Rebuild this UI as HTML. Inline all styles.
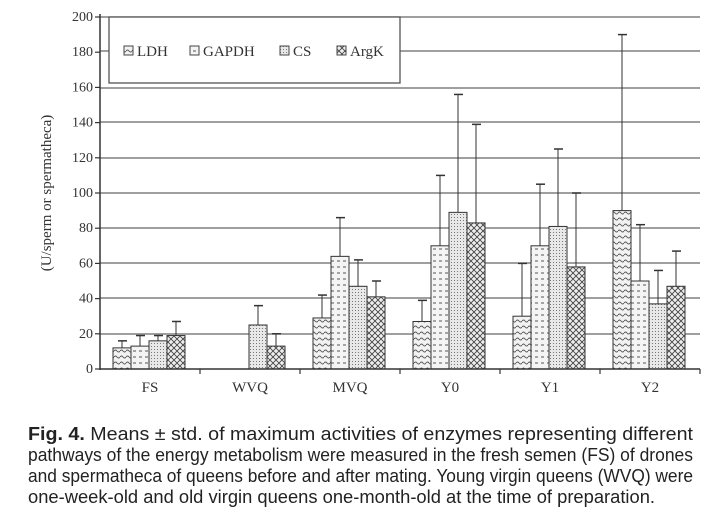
<!DOCTYPE html>
<html><head><style>body{margin:0;background:#fff}svg{display:block}</style></head><body>
<svg width="720" height="520" xmlns="http://www.w3.org/2000/svg" font-family="Liberation Serif, serif">
<defs>
<pattern id="p0" width="6" height="6" patternUnits="userSpaceOnUse"><rect width="6" height="6" fill="#f2f2f2"/><path d="M0 3 Q1.5 1 3 3 T6 3" stroke="#555" fill="none" stroke-width="0.9"/></pattern>
<pattern id="p1" width="6" height="6" patternUnits="userSpaceOnUse"><rect width="6" height="6" fill="#f4f4f4"/><path d="M1 3 H4" stroke="#555" stroke-width="1"/></pattern>
<pattern id="p2" width="3" height="3" patternUnits="userSpaceOnUse"><rect width="3" height="3" fill="#e8e8e8"/><rect x="1" y="1" width="1" height="1" fill="#777"/></pattern>
<pattern id="p3" width="6" height="6" patternUnits="userSpaceOnUse"><rect width="6" height="6" fill="#eee"/><path d="M0 0 L6 6 M6 0 L0 6" stroke="#444" stroke-width="0.9"/></pattern>
</defs>
<g stroke="#666" stroke-width="1.2">
<line x1="100" y1="17" x2="700" y2="17"/><line x1="100" y1="51" x2="700" y2="51"/><line x1="100" y1="88" x2="700" y2="88"/><line x1="100" y1="122" x2="700" y2="122"/><line x1="100" y1="158" x2="700" y2="158"/><line x1="100" y1="193" x2="700" y2="193"/><line x1="100" y1="228" x2="700" y2="228"/><line x1="100" y1="263" x2="700" y2="263"/><line x1="100" y1="298" x2="700" y2="298"/><line x1="100" y1="334" x2="700" y2="334"/>
</g>
<rect x="109" y="17" width="291" height="66" fill="#fff" stroke="#555" stroke-width="1.3"/>
<g font-size="15" fill="#333">
<rect x="124" y="46" width="9" height="9" fill="url(#p0)" stroke="#444"/><text x="137" y="56">LDH</text>
<rect x="190" y="46" width="9" height="9" fill="url(#p1)" stroke="#444"/><text x="203" y="56">GAPDH</text>
<rect x="280" y="46" width="9" height="9" fill="url(#p2)" stroke="#444"/><text x="293" y="56">CS</text>
<rect x="337" y="46" width="9" height="9" fill="url(#p3)" stroke="#444"/><text x="350" y="56">ArgK</text>
</g>
<g id="bars" stroke="#333" stroke-width="1"></g>
<g stroke="#333" stroke-width="1.5">
<line x1="100" y1="14" x2="100" y2="370"/><line x1="100" y1="369" x2="700" y2="369"/>
</g>
<g stroke="#333" stroke-width="1.2" id="ticks"></g>
<g font-size="14" fill="#333" text-anchor="end" id="ylab"></g>
<g font-size="15" fill="#333" text-anchor="middle">
<text x="150" y="392">FS</text><text x="250" y="392">WVQ</text><text x="350" y="392">MVQ</text><text x="450" y="392">Y0</text><text x="550" y="392">Y1</text><text x="650" y="392">Y2</text>
</g>
<text transform="translate(51,193) rotate(-90)" font-size="15" fill="#333" text-anchor="middle">(U/sperm or spermatheca)</text>
<g font-family="Liberation Sans, sans-serif" font-size="18" fill="#222">
<text x="28" y="440" textLength="665" lengthAdjust="spacingAndGlyphs"><tspan font-weight="bold">Fig. 4.</tspan> Means ± std. of maximum activities of enzymes representing different</text>
<text x="28" y="461" textLength="665" lengthAdjust="spacingAndGlyphs">pathways of the energy metabolism were measured in the fresh semen (FS) of drones</text>
<text x="28" y="482" textLength="665" lengthAdjust="spacingAndGlyphs">and spermatheca of queens before and after mating. Young virgin queens (WVQ) were</text>
<text x="28" y="503" textLength="627" lengthAdjust="spacingAndGlyphs">one-week-old and old virgin queens one-month-old at the time of preparation.</text>
</g>
<script>
var d=[[[12,4],[13,6],[16,3],[19,8]],[null,null,[25,11],[13,7]],[[29,13],[64,22],[47,15],[41,9]],[[27,12],[70,40],[89,67],[83,56]],[[30,30],[70,35],[81,44],[58,42]],[[90,100],[50,32],[37,19],[47,20]]];
var ns="http://www.w3.org/2000/svg",g=document.getElementById('bars');
function el(t,a,p){var e=document.createElementNS(ns,t);for(var k in a)e.setAttribute(k,a[k]);(p||g).appendChild(e);return e;}
function Y(v){return 369-v*1.76;}
d.forEach(function(gr,i){gr.forEach(function(b,j){if(!b)return;var x=113+i*100+j*18;
var yt=Y(b[0]),ye=Y(b[0]+b[1]);
el('line',{x1:x+9,y1:yt,x2:x+9,y2:ye});el('line',{x1:x+5,y1:ye,x2:x+14,y2:ye,'stroke-width':1.5});
el('rect',{x:x,y:yt,width:18,height:369-yt,fill:'url(#p'+j+')'});});});
var t=document.getElementById('ticks'),yl=document.getElementById('ylab');
for(var v=0;v<=200;v+=20){el('line',{x1:95,y1:Y(v),x2:100,y2:Y(v)},t);var tx=el('text',{x:93,y:Y(v)+4},yl);tx.textContent=v;}
for(var x=200;x<=700;x+=100)el('line',{x1:x,y1:369,x2:x,y2:374},t);
</script>
</svg>
</body></html>
